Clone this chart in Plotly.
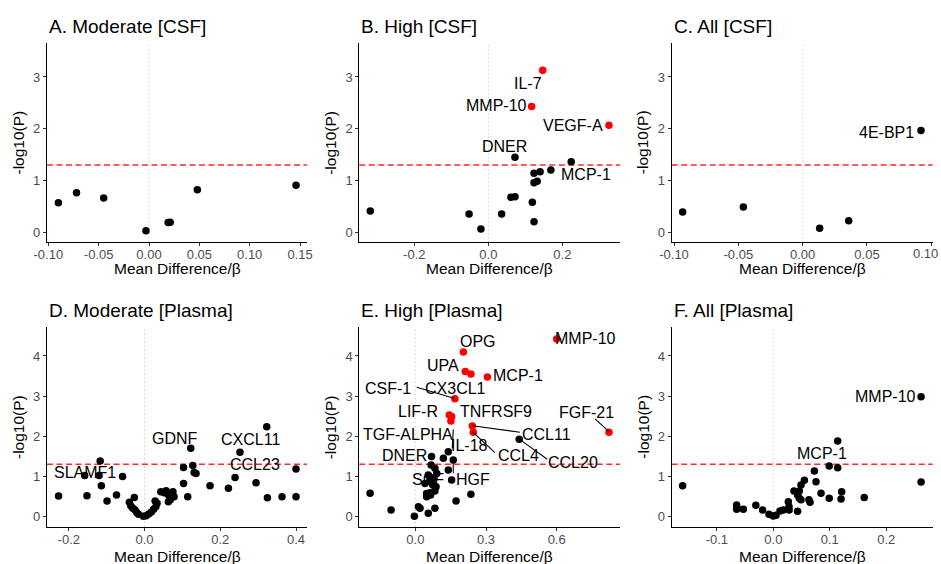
import plotly.graph_objects as go

W, H = 941, 564

# ---------------- data ----------------
# Panel A. Moderate [CSF]
A_x = [-0.090, -0.072, -0.045, -0.003, 0.019, 0.021, 0.048, 0.146]
A_y = [0.573, 0.766, 0.663, 0.032, 0.190, 0.196, 0.824, 0.908]
A_red = [0, 0, 0, 0, 0, 0, 0, 0]

# Panel B. High [CSF]
B_x = [0.147, 0.117, 0.326, 0.072, 0.224, 0.169, 0.140, 0.1235, 0.1235, 0.132,
       0.061, 0.072, 0.119, 0.1235, -0.319, -0.052, 0.036, -0.020]
B_y = [3.13, 2.43, 2.07, 1.449, 1.364, 1.203, 1.17, 1.14, 0.958, 0.985,
       0.676, 0.688, 0.58, 0.205, 0.41, 0.353, 0.353, 0.065]
B_red = [1, 1, 1] + [0] * 15

# Panel C. All [CSF]
C_x = [-0.0933, -0.0461, 0.0132, 0.0358, 0.092]
C_y = [0.393, 0.489, 0.077, 0.225, 1.964]
C_red = [0, 0, 0, 0, 0]

# Panel D. Moderate [Plasma]
D_x = [-0.227, -0.152, -0.158, -0.117, -0.120, -0.114, -0.058, -0.099, -0.074, -0.027,
       -0.040, -0.036, -0.031, -0.025, -0.020, -0.016, -0.003, 0.004, 0.011, 0.018,
       0.024, 0.030, 0.033, 0.028, 0.043, 0.052, 0.057, 0.063, 0.068, 0.075,
       0.078, 0.063, 0.103, 0.103, 0.114, 0.122, 0.1275, 0.131, 0.136, 0.173,
       0.2215, 0.239, 0.252, 0.3227, 0.2945, 0.3244, 0.363, 0.400, 0.400]
D_y = [0.507, 0.515, 1.02, 1.38, 1.02, 0.765, 0.99, 0.38, 0.53, 0.47,
       0.349, 0.258, 0.20, 0.158, 0.091, 0.05, 0.0, 0.016, 0.058, 0.108,
       0.175, 0.24, 0.325, 0.38, 0.615, 0.59, 0.64, 0.53, 0.41, 0.615,
       0.49, 0.365, 1.22, 0.82, 0.49, 1.70, 1.27, 1.09, 1.07, 0.765,
       0.70, 0.965, 1.597, 2.236, 0.84, 0.465, 0.49, 0.49, 1.18]
D_red = [0] * len(D_x)

# Panel E. High [Plasma]
E_x = [0.600, 0.204, 0.212, 0.236, 0.306, 0.168, 0.144, 0.154, 0.151, 0.242, 0.246, 0.822,
       0.441, 0.069, 0.067, 0.083, 0.091, 0.062, 0.074, 0.083, 0.065, 0.048, 0.041,
       0.119, 0.140, 0.161, 0.140, 0.154, 0.013, 0.020, 0.055, 0.083, -0.103, -0.192,
       -0.004, 0.173, 0.236, 0.055, 0.079, 0.088, 0.048, 0.062]
E_y = [4.424, 4.10, 3.61, 3.55, 3.476, 2.93, 2.53, 2.49, 2.38, 2.25, 2.095, 2.10,
       1.92, 1.49, 1.28, 1.20, 1.07, 0.906, 0.78, 0.63, 0.53, 0.49, 0.82,
       1.45, 1.61, 1.405, 1.156, 0.906, 0.24, 0.20, 0.075, 0.20, 0.158, 0.574,
       0.0, 0.383, 0.549, 1.03, 0.95, 0.74, 0.57, 0.59]
E_red = [1] * 12 + [0] * 30

# Panel F. All [Plasma]
F_x = [-0.1607, 0.2617, 0.2617, 0.114, 0.099, 0.114, 0.0727, 0.0756, 0.055, 0.049,
       0.046, 0.0366, 0.043, 0.049, 0.046, 0.0845, 0.099, 0.120, 0.121, 0.161,
       0.063, 0.065, 0.043, 0.0266, 0.0278, 0.028, 0.0177, 0.0118, 0.0047, 0.0,
       -0.0077, -0.019, -0.031, -0.053, -0.065, -0.065, -0.064]
F_y = [0.765, 2.985, 0.857, 1.88, 1.256, 1.214, 1.13, 0.865, 0.90, 0.78,
       0.63, 0.63, 0.53, 0.41, 0.45, 0.574, 0.45, 0.43, 0.615, 0.466,
       0.41, 0.35, 0.125, 0.366, 0.24, 0.158, 0.158, 0.133, 0.025, 0.008,
       0.05, 0.158, 0.274, 0.175, 0.28, 0.175, 0.20]
F_red = [0] * len(F_x)

# labels: (text, label_x, label_y)
B_labels = [("IL-7", 0.108, 2.879), ("MMP-10", 0.0226, 2.44), ("VEGF-A", 0.2297, 2.054),
            ("DNER", 0.0432, 1.654), ("MCP-1", 0.264, 1.121)]
C_labels = [("4E-BP1", 0.0653, 1.932)]
D_labels = [("GDNF", 0.0809, 1.947), ("CXCL11", 0.2805, 1.904), ("CCL23", 0.2918, 1.281),
            ("SLAMF1", -0.1583, 1.089)]
E_labels = [("MMP-10", 0.7244, 4.424), ("OPG", 0.2673, 4.357), ("UPA", 0.1162, 3.751),
            ("MCP-1", 0.437, 3.501), ("CSF-1", -0.116, 3.194), ("CX3CL1", 0.1713, 3.194),
            ("LIF-R", 0.0126, 2.611), ("TNFRSF9", 0.3424, 2.611), ("TGF-ALPHA", -0.0298, 2.047),
            ("CCL11", 0.5576, 2.047), ("IL-18", 0.229, 1.762), ("CCL4", 0.437, 1.505),
            ("CCL20", 0.6705, 1.338), ("DNER", -0.0468, 1.513), ("SCF", 0.055, 0.906),
            ("HGF", 0.2435, 0.906), ("FGF-21", 0.7274, 2.596)]
F_labels = [("MMP-10", 0.1991, 2.985), ("MCP-1", 0.0862, 1.573)]
# label connector segments in panel E: (x0, y0, x1, y1)
E_segments = [(0.0058, 3.219, 0.164, 2.945), (0.242, 2.261, 0.444, 2.097),
              (0.242, 2.112, 0.338, 1.588), (0.444, 1.912, 0.560, 1.423),
              (0.763, 2.429, 0.822, 2.112), (0.600, 4.424, 0.620, 4.424),
              (0.161, 2.17, 0.157, 1.70), (0.161, 1.405, 0.161, 1.073)]

titles = ["A. Moderate [CSF]", "B. High [CSF]", "C. All [CSF]",
          "D. Moderate [Plasma]", "E. High [Plasma]", "F. All [Plasma]"]
x_ticks = [[-0.10, -0.05, 0.0, 0.05, 0.10, 0.15], [-0.2, 0.0, 0.2], [-0.10, -0.05, 0.0, 0.05, 0.10],
           [-0.2, 0.0, 0.2, 0.4], [0.0, 0.3, 0.6], [-0.1, 0.0, 0.1, 0.2]]
x_tick_text = [["-0.10", "-0.05", "0.00", "0.05", "0.10", "0.15"], ["-0.2", "0.0", "0.2"],
               ["-0.10", "-0.05", "0.00", "0.05", ""], ["-0.2", "0.0", "0.2", "0.4"],
               ["0.0", "0.3", "0.6"], ["-0.1", "0.0", "0.1", "0.2"]]
edge_tick_label = "0.10"   # last tick of panel C, drawn at the page edge
y_ticks_top = [0, 1, 2, 3]
y_ticks_bot = [0, 1, 2, 3, 4]
threshold = 1.30103

# ---------------- layout geometry (pixels) ----------------
panel_px = [(47, 307), (359.3, 620), (671.7, 932.7)]
row_px = [(43, 242), (327, 527)]
x_ranges = [(-0.1013, 0.1569), (-0.3487, 0.3559), (-0.1018, 0.1011),
            (-0.2575, 0.429), (-0.2378, 0.8688), (-0.180, 0.2823)]
y_ranges = [(-0.187, 3.656), (-0.267, 4.723)]

panels = [(A_x, A_y, A_red, []), (B_x, B_y, B_red, B_labels), (C_x, C_y, C_red, C_labels),
          (D_x, D_y, D_red, D_labels), (E_x, E_y, E_red, E_labels), (F_x, F_y, F_red, F_labels)]

FONT = "Liberation Sans, Arial, sans-serif"
TICKFONT = dict(family=FONT, size=13, color="#4D4D4D")
fig = go.Figure()
annotations = []
shapes = []
layout = {}

for i, (xs, ys, reds, labels) in enumerate(panels):
    r, c = divmod(i, 3)
    n = i + 1
    xa = "x" if n == 1 else f"x{n}"
    ya = "y" if n == 1 else f"y{n}"
    xkey = "xaxis" if n == 1 else f"xaxis{n}"
    ykey = "yaxis" if n == 1 else f"yaxis{n}"
    x0p, x1p = panel_px[c]
    y0p, y1p = row_px[r]
    xdom = [x0p / W, x1p / W]
    ydom = [1 - y1p / H, 1 - y0p / H]
    yt = y_ticks_top if r == 0 else y_ticks_bot
    layout[xkey] = dict(domain=xdom, anchor=ya, range=list(x_ranges[i]),
                        tickvals=x_ticks[i], ticktext=x_tick_text[i], automargin=False,
                        showline=True, linecolor="black", linewidth=1.1,
                        ticks="outside", ticklen=3, tickcolor="#333333", tickwidth=1,
                        ticklabelstandoff=-3, ticklabeloverflow="allow",
                        showgrid=False, zeroline=False, tickfont=TICKFONT)
    layout[ykey] = dict(domain=ydom, anchor=xa, range=list(y_ranges[r]),
                        tickvals=yt, ticktext=[str(v) for v in yt], automargin=False,
                        showline=True, linecolor="black", linewidth=1.1,
                        ticks="outside", ticklen=3, tickcolor="#333333", tickwidth=1,
                        ticklabeloverflow="allow",
                        showgrid=False, zeroline=False, tickfont=TICKFONT)
    # reference lines
    shapes.append(dict(type="line", xref=xa, yref=f"{ya} domain", x0=0, x1=0, y0=0, y1=1,
                       line=dict(color="#BEBEBE", width=1, dash="1px,3px"), layer="below"))
    shapes.append(dict(type="line", xref=f"{xa} domain", yref=ya, x0=0, x1=1,
                       y0=threshold, y1=threshold,
                       line=dict(color="#FF2A2A", width=1.5, dash="6px,3.5px"), layer="below"))
    cols = ["#FF0000" if rr else "#000000" for rr in reds]
    fig.add_trace(go.Scatter(x=xs, y=ys, mode="markers", xaxis=xa, yaxis=ya,
                             marker=dict(size=7.5, color=cols, line=dict(width=0)),
                             showlegend=False, hoverinfo="x+y"))
    for (txt, lx, ly) in labels:
        annotations.append(dict(text=txt, x=lx, y=ly, xref=xa, yref=ya, showarrow=False,
                                xanchor="center", yanchor="middle",
                                font=dict(family=FONT, size=16, color="black")))
    # titles
    ty = 26.5 if r == 0 else 310
    annotations.append(dict(text=titles[i], x=x0p / W, y=1 - ty / H, xref="paper", yref="paper",
                            showarrow=False, xanchor="left", yanchor="middle",
                            font=dict(family=FONT, size=19, color="black")))
    # axis titles
    annotations.append(dict(text="Mean Difference/β", x=(x0p + x1p) / 2 / W,
                            y=1 - (268.5 if r == 0 else 556) / H, xref="paper", yref="paper",
                            showarrow=False, xanchor="center", yanchor="middle",
                            font=dict(family=FONT, size=15.5, color="black")))
    annotations.append(dict(text="-log10(P)", x=(x0p - 29) / W, y=1 - (y0p + y1p) / 2 / H,
                            xref="paper", yref="paper", showarrow=False, textangle=-90,
                            xanchor="center", yanchor="middle",
                            font=dict(family=FONT, size=15.5, color="black")))

# last tick label of panel C, kept inside the page
annotations.append(dict(text=edge_tick_label, x=1.0, y=1 - 253 / H, xref="paper", yref="paper",
                        showarrow=False, xanchor="right", yanchor="middle", xshift=-1,
                        font=TICKFONT))

for (sx0, sy0, sx1, sy1) in E_segments:
    shapes.append(dict(type="line", xref="x5", yref="y5", x0=sx0, y0=sy0, x1=sx1, y1=sy1,
                       line=dict(color="black", width=1.1)))

fig.update_layout(width=W, height=H, margin=dict(l=0, r=0, t=0, b=0),
                  paper_bgcolor="white", plot_bgcolor="white", showlegend=False,
                  annotations=annotations, shapes=shapes, **layout)
fig.write_html("out.html")
